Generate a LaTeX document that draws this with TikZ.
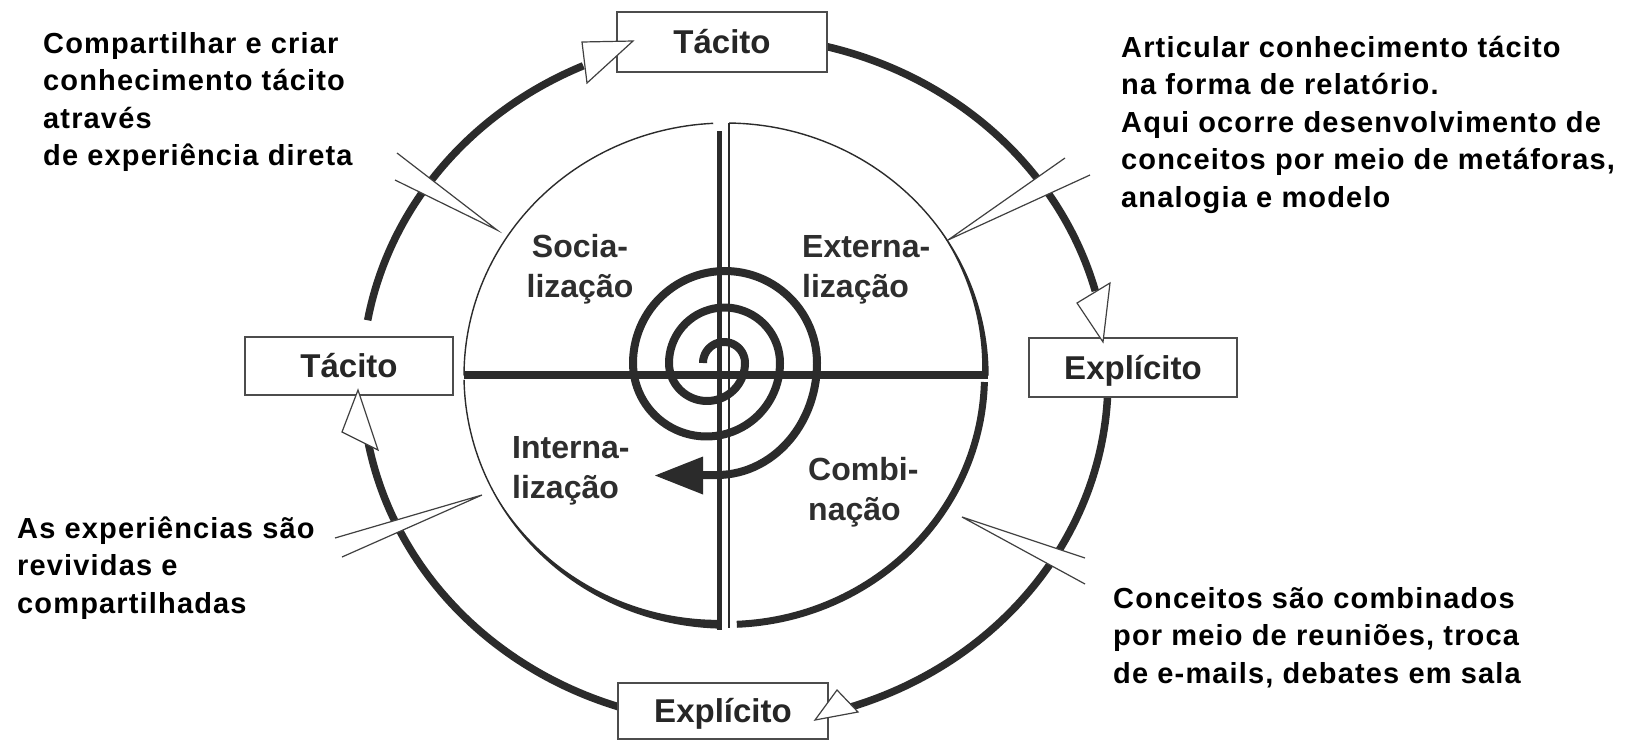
\documentclass[tikz,border=0pt]{standalone}
\usepackage{fontspec}
\setmainfont{Liberation Sans}
\newfontfamily\callfont{Liberation Sans}[LetterSpace=4]
\definecolor{ink}{HTML}{2B2B2B}
\newcommand\leftlines[1]{\vtop{\halign{##\hfil\cr#1\crcr}}}
\newcommand\centlines[1]{\vtop{\halign{\hfil##\hfil\cr#1\crcr}}}
\begin{document}
\begin{tikzpicture}[x=1pt,y=-1pt,
  ring/.style={draw=ink,line width=7.5pt,line cap=butt},
  hair/.style={draw=ink,line width=1.4pt},
  spiralline/.style={draw=ink,line width=8pt,line join=round},
  box/.style={draw=black!70,line width=1.4pt,fill=white,minimum width=210pt,minimum height=60pt,inner sep=0pt,text=black!85,font=\fontsize{33}{40}\selectfont\bfseries,text height=23pt,text depth=0pt},
  openhead/.style={draw=black!75,line width=1.2pt,fill=white,line join=miter},
  wedgeline/.style={draw=black!75,line width=1.2pt},
  quadlabel/.style={inner sep=0pt,text=black!82,font=\fontsize{32}{40}\selectfont\bfseries},
  callout/.style={inner sep=0pt,anchor=base west,font=\callfont\bfseries\fontsize{29}{37.5}\selectfont},
]
\useasboundingbox (0,0) rectangle (1634,740);
\fill[white] (0,0) rectangle (1634,740);
\def\ocx{735}\def\ocy{380}\def\orx{373}\def\ory{344}
\def\icx{726}\def\icy{375.5}\def\irx{262}\def\iry{252.5}

% outer ring segments
\draw[ring] plot[domain=170:114,samples=60] ({\ocx+\orx*cos(\x)},{\ocy-\ory*sin(\x)});
\draw[ring] plot[domain=78:15,samples=60] ({\ocx+\orx*cos(\x)},{\ocy-\ory*sin(\x)});
\draw[ring] plot[domain=-1:-72.5,samples=60] ({\ocx+\orx*cos(\x)},{\ocy-\ory*sin(\x)});
\draw[ring] plot[domain=254:190,samples=60] ({\ocx+\orx*cos(\x)},{\ocy-\ory*sin(\x)});

% callout wedges
\coordinate (w1a) at (397,153); \coordinate (w1t) at (497,230); \coordinate (w1b) at (395,180);
\coordinate (w2a) at (1065,158); \coordinate (w2t) at (948,240); \coordinate (w2b) at (1090,175);
\coordinate (w3a) at (1085,558); \coordinate (w3t) at (962,517); \coordinate (w3b) at (1085,584);
\coordinate (w4a) at (335,538); \coordinate (w4t) at (482,495); \coordinate (w4b) at (342,557);
\foreach \w in {w1,w2,w3,w4}{
  \fill[white] (\w a) -- (\w t) -- (\w b) -- cycle;
  \draw[wedgeline] (\w a) -- (\w t) -- (\w b);
}

% inner circle quadrants
\draw[hair] plot[domain=92.8:180,samples=60] ({\icx+\irx*cos(\x)},{\icy-\iry*sin(\x)});
\draw[hair] plot[domain=89.3:0,samples=60] ({\icx+\irx*cos(\x)},{\icy-\iry*sin(\x)});
\fill[ink] plot[domain=38:0,samples=40] ({\icx+\irx*cos(\x)},{\icy-\iry*sin(\x)})
  -- plot[domain=0:38,samples=40] ({\icx+(\irx-6*(1-\x/38))*cos(\x)},{\icy-(\iry-6*(1-\x/38))*sin(\x)}) -- cycle;
\draw[ink,line width=7pt] plot[domain=-1.5:-87.6,samples=60] ({\icx+(\irx-3.5)*cos(\x)},{\icy-(\iry-3.5)*sin(\x)});
\draw[hair] plot[domain=268:181,samples=60] ({\icx+\irx*cos(\x)},{\icy-\iry*sin(\x)});
\fill[ink] plot[domain=268:205,samples=50] ({\icx+\irx*cos(\x)},{\icy-\iry*sin(\x)})
  -- plot[domain=205:268,samples=50] ({\icx+(\irx-8*(\x-205)/63)*cos(\x)},{\icy-(\iry-8*(\x-205)/63)*sin(\x)}) -- cycle;

% dividers
\draw[ink,line width=8pt] (464,375) -- (988,375);
\draw[ink,line width=5.5pt] (719.5,131) -- (719.5,630);
\draw[hair] (729,123) -- (729,628);

% spiral
\draw[spiralline] (703,363)
  -- plot[domain=0:180,samples=36] ({724-21*cos(\x)},{363-21*sin(\x)})
  -- plot[domain=0:180,samples=36] ({707+38*cos(\x)},{363+38*sin(\x)})
  -- plot[domain=0:180,samples=40] ({724.5-55.5*cos(\x)},{363-55.5*sin(\x)})
  -- plot[domain=0:180,samples=48] ({706.5+73.5*cos(\x)},{363+73.5*sin(\x)})
  -- plot[domain=0:180,samples=56] ({725-92*cos(\x)},{363-92*sin(\x)})
  -- plot[domain=0:90,samples=30] ({717+100*cos(\x)},{363+112*sin(\x)})
  -- (700,475);
\fill[ink] (703,456.5) -- (655,475.5) -- (703,494.5) -- cycle;

% boxes
\node[box] (tacT) at (722,42) {Tácito};
\node[box,minimum width=208pt,minimum height=58pt] (tacL) at (349,366) {Tácito};
\node[box,minimum width=208pt,minimum height=59pt] (expR) at (1133,367.5) {Explícito};
\node[box,minimum height=56pt] (expB) at (723,711) {Explícito};

% open arrowheads on the outer ring
\draw[openhead] (582,42) -- (633,41) -- (587,83) -- cycle;
\draw[openhead] (1077,303) -- (1103,342) -- (1110,283) -- cycle;
\draw[openhead] (837,690) -- (815,720) -- (858,712) -- cycle;
\draw[openhead] (342,432) -- (358,390) -- (378,450) -- cycle;

% quadrant labels
\node[quadlabel,anchor=base] (soc) at (580,257) {\centlines{Socia-\cr lização}};
\node[quadlabel,anchor=base west] (ext) at (802,257) {\leftlines{Externa-\cr lização}};
\node[quadlabel,anchor=base west] (intz) at (512,458) {\leftlines{Interna-\cr lização}};
\node[quadlabel,anchor=base west] (comb) at (808,480) {\leftlines{Combi-\cr nação}};

% callouts
\node[callout] (c1) at (43,53) {\leftlines{Compartilhar e criar\cr conhecimento tácito\cr através\cr de experiência direta}};
\node[callout] (c2) at (1121,57) {\leftlines{Articular conhecimento tácito\cr na forma de relatório.\cr Aqui ocorre desenvolvimento de\cr conceitos por meio de metáforas,\cr analogia e modelo}};
\node[callout] (c3) at (1113,608) {\leftlines{Conceitos são combinados\cr por meio de reuniões, troca\cr de e-mails, debates em sala}};
\node[callout] (c4) at (17,538) {\leftlines{As experiências são\cr revividas e\cr compartilhadas}};
\end{tikzpicture}
\end{document}
